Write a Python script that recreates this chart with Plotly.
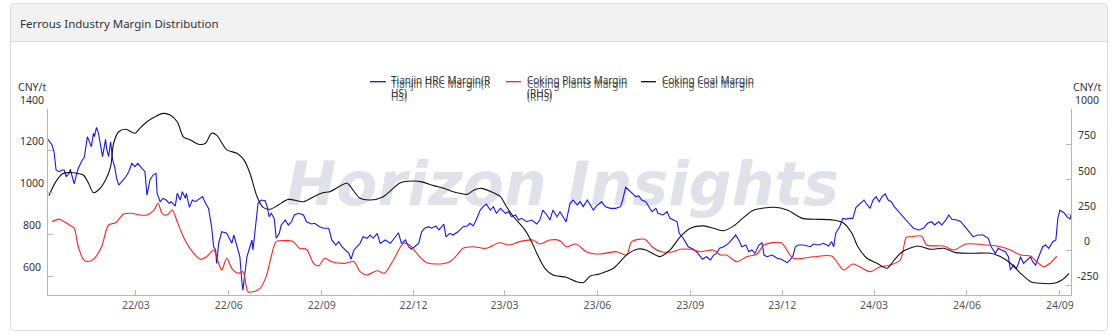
import plotly.graph_objects as go

# ---------------- data ----------------
x_range = ["2021-12-04", "2024-09-12"]
x_tick0 = "2022-03-01"
left_ticks = [600, 800, 1000, 1200, 1400]
right_ticks = [-250, 0, 250, 500, 750, 1000]
left_range = [509, 1400]
right_range = [-318, 1000]
unit_label = "CNY/t"
chart_title = "Ferrous Industry Margin Distribution"
watermark = "Horizon Insights"
legend_labels = ["Tianjin HRC Margin(R<br>HS)", "Coking Plants Margin<br>(RHS)", "Coking Coal Margin"]

# Tianjin HRC Margin (RHS)
hrc_dates = [
    "2021-12-04", "2021-12-08", "2021-12-10", "2021-12-12", "2021-12-15", "2021-12-18", "2021-12-20", "2021-12-22", "2021-12-25", "2021-12-26", "2021-12-28", "2021-12-30",
    "2022-01-01", "2022-01-03", "2022-01-07", "2022-01-09", "2022-01-12", "2022-01-14", "2022-01-16", "2022-01-18", "2022-01-19", "2022-01-21", "2022-01-23", "2022-01-25", "2022-01-27", "2022-01-30", "2022-01-31",
    "2022-02-02", "2022-02-04", "2022-02-06", "2022-02-08", "2022-02-10", "2022-02-12", "2022-02-15", "2022-02-19", "2022-02-22", "2022-02-25", "2022-02-28",
    "2022-03-03", "2022-03-07", "2022-03-10", "2022-03-12", "2022-03-15", "2022-03-18", "2022-03-21", "2022-03-22", "2022-03-25", "2022-03-28", "2022-03-31",
    "2022-04-03", "2022-04-05", "2022-04-09", "2022-04-11", "2022-04-14", "2022-04-16", "2022-04-19", "2022-04-20", "2022-04-23", "2022-04-26", "2022-04-29",
    "2022-05-02", "2022-05-06", "2022-05-09", "2022-05-12", "2022-05-15", "2022-05-17", "2022-05-19", "2022-05-20", "2022-05-22", "2022-05-24", "2022-05-25", "2022-05-30",
    "2022-06-04", "2022-06-06", "2022-06-09", "2022-06-12", "2022-06-14", "2022-06-15", "2022-06-17", "2022-06-19", "2022-06-21", "2022-06-24", "2022-06-25", "2022-06-28", "2022-06-30",
    "2022-07-03", "2022-07-07", "2022-07-09", "2022-07-11", "2022-07-13", "2022-07-16", "2022-07-18", "2022-07-21", "2022-07-23", "2022-07-27", "2022-07-30",
    "2022-08-02", "2022-08-05", "2022-08-09", "2022-08-14", "2022-08-17", "2022-08-22", "2022-08-25", "2022-08-30",
    "2022-09-03", "2022-09-08", "2022-09-11", "2022-09-15", "2022-09-18", "2022-09-21", "2022-09-25", "2022-09-28", "2022-09-30",
    "2022-10-03", "2022-10-06", "2022-10-09", "2022-10-12", "2022-10-16", "2022-10-19", "2022-10-22", "2022-10-26", "2022-10-29",
    "2022-11-03", "2022-11-08", "2022-11-13", "2022-11-16", "2022-11-19", "2022-11-23", "2022-11-26", "2022-11-29",
    "2022-12-02", "2022-12-06", "2022-12-09", "2022-12-12", "2022-12-16", "2022-12-19", "2022-12-23", "2022-12-26", "2022-12-29", "2022-12-31",
    "2023-01-02", "2023-01-06", "2023-01-09", "2023-01-14", "2023-01-19", "2023-01-23", "2023-01-26", "2023-01-29",
    "2023-02-01", "2023-02-05", "2023-02-08", "2023-02-11", "2023-02-15", "2023-02-18", "2023-02-21", "2023-02-25",
    "2023-03-02", "2023-03-05", "2023-03-08", "2023-03-12", "2023-03-15", "2023-03-18", "2023-03-23", "2023-03-28",
    "2023-04-02", "2023-04-05", "2023-04-08", "2023-04-12", "2023-04-15", "2023-04-18", "2023-04-22", "2023-04-25", "2023-04-28",
    "2023-05-01", "2023-05-05", "2023-05-08", "2023-05-12", "2023-05-15", "2023-05-18", "2023-05-22", "2023-05-25", "2023-05-28", "2023-05-31",
    "2023-06-05", "2023-06-09", "2023-06-14", "2023-06-19", "2023-06-24", "2023-06-26", "2023-06-29",
    "2023-07-02", "2023-07-05", "2023-07-09", "2023-07-12", "2023-07-15", "2023-07-19", "2023-07-22", "2023-07-25", "2023-07-29", "2023-07-31",
    "2023-08-05", "2023-08-09", "2023-08-12", "2023-08-15", "2023-08-19", "2023-08-21", "2023-08-24", "2023-08-27", "2023-08-30",
    "2023-09-04", "2023-09-07", "2023-09-10", "2023-09-13", "2023-09-17", "2023-09-21", "2023-09-24", "2023-09-27", "2023-09-30",
    "2023-10-04", "2023-10-09", "2023-10-12", "2023-10-16", "2023-10-19", "2023-10-22", "2023-10-26", "2023-10-29",
    "2023-11-01", "2023-11-04", "2023-11-08", "2023-11-11", "2023-11-13", "2023-11-16", "2023-11-21", "2023-11-26", "2023-11-30",
    "2023-12-06", "2023-12-09", "2023-12-12", "2023-12-14", "2023-12-17", "2023-12-22", "2023-12-29",
    "2024-01-01", "2024-01-06", "2024-01-11", "2024-01-16", "2024-01-19", "2024-01-21", "2024-01-23", "2024-01-27", "2024-01-30",
    "2024-02-02", "2024-02-06", "2024-02-09", "2024-02-12", "2024-02-16", "2024-02-20", "2024-02-22", "2024-02-26", "2024-02-29",
    "2024-03-03", "2024-03-06", "2024-03-09", "2024-03-12", "2024-03-15", "2024-03-18", "2024-03-21", "2024-03-24", "2024-03-28", "2024-03-31",
    "2024-04-03", "2024-04-06", "2024-04-09", "2024-04-14", "2024-04-19", "2024-04-23", "2024-04-27", "2024-04-30",
    "2024-05-04", "2024-05-07", "2024-05-11", "2024-05-14", "2024-05-17", "2024-05-22", "2024-05-26", "2024-05-31",
    "2024-06-03", "2024-06-07", "2024-06-12", "2024-06-17", "2024-06-22", "2024-06-25", "2024-06-29",
    "2024-07-02", "2024-07-05", "2024-07-09", "2024-07-12", "2024-07-14", "2024-07-17", "2024-07-20", "2024-07-22", "2024-07-24", "2024-07-27", "2024-07-31",
    "2024-08-03", "2024-08-05", "2024-08-08", "2024-08-11", "2024-08-15", "2024-08-18", "2024-08-21", "2024-08-25", "2024-08-28", "2024-08-30",
    "2024-09-01", "2024-09-05", "2024-09-08", "2024-09-11", "2024-09-12",
]
hrc_margin = [
    785, 745, 697, 568, 556, 568, 568, 520, 544, 573, 520, 469,
    532, 580, 639, 658, 804, 768, 733, 828, 804, 870, 828, 745, 662, 785, 721,
    662, 768, 639, 591, 509, 461, 485, 520, 556, 615, 591,
    615, 580, 556, 390, 497, 532, 544, 403, 343, 367, 355,
    332, 343, 312, 403, 355, 414, 367, 403, 303, 355, 343,
    360, 379, 332, 296, 166, 24, 1, -94, 48, 119, 130, 119,
    48, 107, 24, -47, -224, -283, -164, -47, 1, 72, 1, 178, 332,
    355, 350, 308, 237, 261, 225, 84, 119, 178, 213, 178,
    201, 249, 261, 249, 201, 185, 190, 166,
    155, 155, 72, 36, 60, 24, 1, -23, -65,
    1, 24, 48, 95, 84, 107, 84, 119, 48,
    72, 48, 95, 123, 48, 72, 24, 6,
    24, 48, 130, 155, 166, 155, 171, 143, 166, 185,
    95, 119, 107, 130, 166, 171, 190, 171,
    213, 284, 308, 327, 284, 308, 261, 296,
    261, 272, 237, 249, 213, 225, 201, 213,
    185, 213, 284, 249, 213, 284, 237, 272, 237,
    201, 332, 355, 320, 343, 308, 355, 320, 284, 312,
    343, 308, 296, 296, 308, 355, 445,
    426, 403, 379, 384, 355, 343, 308, 272, 296, 261,
    249, 272, 225, 213, 201, 119, 95, 60, 24,
    6, -11, -35, -65, -47, -70, -35, -23, 13,
    24, 48, 72, 107, 72, 24, 36, -11,
    1, -23, 36, 52, -35, -47, -35, -58, -65,
    -89, -70, -35, 24, 36, 36, 24,
    43, 36, 48, 29, 60, 24, 119, 166, 225,
    220, 225, 225, 302, 329, 355, 332, 296, 355,
    379, 343, 379, 398, 355, 343, 308, 284, 249, 225,
    201, 178, 155, 143, 155, 190, 201, 178,
    201, 178, 213, 249, 218, 213, 201, 155,
    130, 95, 107, 107, 84, 24, -23,
    13, 1, -11, -47, -141, -106, -129, -94, -47, -94, -70,
    -47, -82, -106, -47, 24, 36, 13, 60, 72, 225,
    284, 265, 237, 220, 249,
]

# Coking Plants Margin (RHS)
coking_dates = [
    "2021-12-08", "2021-12-15", "2021-12-20", "2021-12-27", "2021-12-30",
    "2022-01-03", "2022-01-08", "2022-01-13", "2022-01-19", "2022-01-26",
    "2022-02-02", "2022-02-09", "2022-02-17", "2022-02-25",
    "2022-03-05", "2022-03-12", "2022-03-19", "2022-03-23", "2022-03-27",
    "2022-04-01", "2022-04-06", "2022-04-11", "2022-04-17", "2022-04-26",
    "2022-05-04", "2022-05-10", "2022-05-17", "2022-05-22", "2022-05-25", "2022-05-30",
    "2022-06-04", "2022-06-10", "2022-06-15", "2022-06-20", "2022-06-25",
    "2022-07-02", "2022-07-08", "2022-07-13", "2022-07-18", "2022-07-28",
    "2022-08-04", "2022-08-10", "2022-08-17", "2022-08-24", "2022-08-29",
    "2022-09-04", "2022-09-11", "2022-09-23",
    "2022-10-03", "2022-10-09", "2022-10-16", "2022-10-26",
    "2022-11-02", "2022-11-11", "2022-11-21", "2022-11-27",
    "2022-12-07", "2022-12-14", "2022-12-27",
    "2023-01-06", "2023-01-13", "2023-01-19", "2023-01-29",
    "2023-02-11", "2023-02-24",
    "2023-03-06", "2023-03-16", "2023-03-29",
    "2023-04-05", "2023-04-15", "2023-04-25",
    "2023-05-01", "2023-05-11", "2023-05-21",
    "2023-06-03", "2023-06-20", "2023-06-30",
    "2023-07-05", "2023-07-18", "2023-07-25",
    "2023-08-03", "2023-08-15", "2023-08-22",
    "2023-09-01", "2023-09-11", "2023-09-24",
    "2023-10-01", "2023-10-07", "2023-10-17", "2023-10-27",
    "2023-11-06", "2023-11-13", "2023-11-30",
    "2023-12-12",
    "2024-01-01", "2024-01-19", "2024-01-31",
    "2024-02-09", "2024-02-26",
    "2024-03-07", "2024-03-17", "2024-03-27",
    "2024-04-02", "2024-04-07", "2024-04-17", "2024-04-22",
    "2024-05-09", "2024-05-19", "2024-05-31",
    "2024-06-21",
    "2024-07-04", "2024-07-14", "2024-07-24",
    "2024-08-03", "2024-08-09", "2024-08-16", "2024-08-22", "2024-08-29",
]
coking_margin = [
    201, 220, 201, 171, 155,
    24, -65, -82, -58, 24,
    178, 194, 256, 261,
    249, 249, 284, 332, 261,
    249, 284, 201, 95, -11,
    -65, -47, 1, -94, -141, -58,
    -129, -164, -153, -295, -295,
    -271, -188, -47, 60, 67,
    60, 13, 6, -94, -111,
    -58, -82, -94,
    -82, -153, -176, -146,
    -164, -70, 48, 36,
    -47, -89, -98,
    -82, -35, 13, 24,
    13, 52,
    36, 60, 72,
    43, 72, 67,
    24, 43, -11,
    -28, -11, -35,
    60, 77, 24,
    -11, -11, 6,
    6, -11, 1,
    -35, -35, -82, -47,
    -28, 36, 52,
    -58,
    -47, -42, -141,
    -98, -153,
    -118, -106, -70,
    91, 95, 100, 36,
    29, 1, 43,
    36,
    24, 1, -35,
    -42, -82, -118, -94, -42,
]

# Coking Coal Margin (LHS)
coal_dates = [
    "2021-12-05", "2021-12-11", "2021-12-18", "2021-12-23",
    "2022-01-02", "2022-01-08", "2022-01-13", "2022-01-18", "2022-01-23", "2022-01-30",
    "2022-02-04", "2022-02-07", "2022-02-12", "2022-02-19", "2022-02-28",
    "2022-03-05", "2022-03-12", "2022-03-20", "2022-03-28",
    "2022-04-04", "2022-04-11", "2022-04-17", "2022-04-24",
    "2022-05-02", "2022-05-09", "2022-05-15", "2022-05-20", "2022-05-30",
    "2022-06-09", "2022-06-16", "2022-06-22", "2022-06-29",
    "2022-07-05", "2022-07-12", "2022-07-20", "2022-07-30",
    "2022-08-14", "2022-08-24",
    "2022-09-02", "2022-09-09", "2022-09-26",
    "2022-10-02", "2022-10-09", "2022-10-19",
    "2022-11-01", "2022-11-18",
    "2022-12-01", "2022-12-08", "2022-12-21", "2022-12-31",
    "2023-01-13", "2023-01-23", "2023-01-30",
    "2023-02-06", "2023-02-16", "2023-02-25",
    "2023-03-03", "2023-03-10", "2023-03-20", "2023-03-27",
    "2023-04-02", "2023-04-10", "2023-04-18",
    "2023-05-01", "2023-05-11", "2023-05-18", "2023-05-25",
    "2023-06-03", "2023-06-17", "2023-06-30",
    "2023-07-11", "2023-07-19",
    "2023-08-02", "2023-08-12", "2023-08-22",
    "2023-09-01", "2023-09-14", "2023-09-24",
    "2023-10-04", "2023-10-14", "2023-10-24",
    "2023-11-03", "2023-11-23",
    "2023-12-06", "2023-12-21",
    "2024-01-01", "2024-01-21", "2024-01-31",
    "2024-02-08", "2024-02-14", "2024-02-23",
    "2024-03-04", "2024-03-14", "2024-03-21", "2024-03-29",
    "2024-04-13", "2024-04-26",
    "2024-05-09", "2024-05-21",
    "2024-06-08", "2024-06-24",
    "2024-07-04", "2024-07-14", "2024-07-24",
    "2024-08-03", "2024-08-13", "2024-08-26",
    "2024-09-03", "2024-09-10",
]
coal_margin = [
    985, 1046, 1089, 1095,
    1092, 1084, 1046, 999, 1012, 1060,
    1124, 1236, 1291, 1303, 1284,
    1308, 1339, 1363, 1379,
    1371, 1339, 1267, 1252,
    1231, 1236, 1284, 1275, 1204,
    1188, 1156, 1092, 980,
    929, 920, 940, 967,
    956, 980,
    999, 1004, 1044,
    1012, 972, 964,
    980, 1047,
    1055, 1052, 1033, 1020,
    999, 991, 1012,
    1020, 1004, 980,
    932, 884, 829, 773,
    709, 637, 605,
    594, 573, 568, 600,
    610, 637, 701,
    729, 725,
    693, 725, 788,
    829, 840, 829,
    817, 840, 881,
    916, 929,
    916, 876,
    872, 868, 853,
    805, 740, 685,
    661, 637, 677, 716,
    744, 728,
    733, 712,
    709, 709,
    693, 661, 613,
    573, 565, 565,
    581, 613,
]

assert len(hrc_dates) == len(hrc_margin), (len(hrc_dates), len(hrc_margin))
assert len(coking_dates) == len(coking_margin), (len(coking_dates), len(coking_margin))
assert len(coal_dates) == len(coal_margin), (len(coal_dates), len(coal_margin))

# ---------------- styling / layout helpers ----------------
W, H = 1118, 335
ML, MR, MT, MB = 48, 47, 109, 40
PW, PH = W - ML - MR, H - MT - MB
FONT = "Noto Sans"
AXIS_GRAY = "#b8b8b8"
TEXT = "#333333"
COLORS = ["#1414ff", "#ff1f1f", "#111111"]


def fx(p):
    return (p - ML) / PW


def fy(p):
    return (H - MB - p) / PH


def rounded_path(x0, y0, x1, y1, r, bottom_round=True):
    rb = r if bottom_round else 0
    parts = [
        f"M{fx(x0 + r)},{fy(y0)}",
        f"L{fx(x1 - r)},{fy(y0)}",
        f"Q{fx(x1)},{fy(y0)} {fx(x1)},{fy(y0 + r)}",
        f"L{fx(x1)},{fy(y1 - rb)}",
    ]
    if rb:
        parts.append(f"Q{fx(x1)},{fy(y1)} {fx(x1 - rb)},{fy(y1)}")
    parts.append(f"L{fx(x0 + rb)},{fy(y1)}")
    if rb:
        parts.append(f"Q{fx(x0)},{fy(y1)} {fx(x0)},{fy(y1 - rb)}")
    parts += [
        f"L{fx(x0)},{fy(y0 + r)}",
        f"Q{fx(x0)},{fy(y0)} {fx(x0 + r)},{fy(y0)}",
        "Z",
    ]
    return " ".join(parts)


fig = go.Figure()
fig.add_trace(go.Scatter(
    x=hrc_dates, y=hrc_margin, mode="lines", yaxis="y",
    line=dict(color=COLORS[0], width=1.1), showlegend=False,
))
fig.add_trace(go.Scatter(
    x=coking_dates, y=coking_margin, mode="lines", yaxis="y",
    line=dict(color=COLORS[1], width=1.1, shape="spline", smoothing=0.8), showlegend=False,
))
fig.add_trace(go.Scatter(
    x=coal_dates, y=coal_margin, mode="lines", yaxis="y2",
    line=dict(color=COLORS[2], width=1.1, shape="spline", smoothing=0.8), showlegend=False,
))

shapes = []
annotations = []

# card header + outline
shapes.append(dict(type="path", xref="paper", yref="paper", layer="below",
                   path=rounded_path(10.5, 3.5, 1107.5, 41.5, 4, bottom_round=False),
                   fillcolor="#f2f2f2", line=dict(width=0)))
shapes.append(dict(type="line", xref="paper", yref="paper", layer="below",
                   x0=fx(10.5), x1=fx(1107.5), y0=fy(41.5), y1=fy(41.5),
                   line=dict(color="#dedede", width=1)))
shapes.append(dict(type="path", xref="paper", yref="paper", layer="below",
                   path=rounded_path(10.5, 3.5, 1107.5, 330.5, 4),
                   fillcolor="rgba(0,0,0,0)", line=dict(color="#dcdcdc", width=1)))

# watermark (behind the lines)
shapes.append(dict(type="rect", xref="paper", yref="paper", layer="below",
                   x0=fx(270), x1=fx(855), y0=fy(215), y1=fy(145),
                   line=dict(width=0, color="rgba(0,0,0,0)"), fillcolor="rgba(0,0,0,0)",
                   label=dict(text=watermark, textposition="middle center",
                              font=dict(family="DejaVu Sans", size=60, color="#e1e1e9",
                                        weight="bold", style="italic"))))

annotations.append(dict(text=chart_title, xref="paper", yref="paper", x=fx(18), y=fy(23),
                        xanchor="left", yanchor="middle", showarrow=False,
                        font=dict(family=FONT, size=11.5, color=TEXT)))

# unit labels
for xc in (32, 1086.5):
    annotations.append(dict(text=unit_label, xref="paper", yref="paper", x=fx(xc), y=fy(87.3),
                            xanchor="center", yanchor="middle", showarrow=False,
                            font=dict(family=FONT, size=10.5, color=TEXT)))

# y tick labels (sit slightly above their tick marks, centred)
for v in left_ticks:
    annotations.append(dict(text=str(v), xref="paper", yref="y2", x=fx(31.5), y=v, yshift=9.5,
                            xanchor="center", yanchor="middle", showarrow=False,
                            font=dict(family=FONT, size=10.5, color=TEXT)))
for v in right_ticks:
    annotations.append(dict(text=str(v), xref="paper", yref="y", x=fx(1087), y=v, yshift=9,
                            xanchor="center", yanchor="middle", showarrow=False,
                            font=dict(family=FONT, size=10.5, color=TEXT)))

# manual legend (text rendered with a slight offset echo, as in the source)
legend_seg = [(370, 386), (506, 521), (641, 656)]
legend_txt_x = [389, 525, 659.5]
for (a, b), tx, lab, col in zip(legend_seg, legend_txt_x, legend_labels, COLORS):
    shapes.append(dict(type="line", xref="paper", yref="paper", x0=fx(a), x1=fx(b),
                       y0=fy(81.7), y1=fy(81.7), line=dict(color=col, width=1.3)))
    annotations.append(dict(text=lab, xref="paper", yref="paper", x=fx(tx), y=fy(70.5),
                            xanchor="left", yanchor="top", align="left", showarrow=False,
                            font=dict(family=FONT, size=10, color="#333333",
                                      shadow="0px 3.5px 0px rgba(60,60,60,0.85)")))

fig.update_layout(
    width=W, height=H,
    margin=dict(l=ML, r=MR, t=MT, b=MB, autoexpand=False),
    paper_bgcolor="white", plot_bgcolor="rgba(0,0,0,0)",
    showlegend=False,
    shapes=shapes, annotations=annotations,
    xaxis=dict(type="date", range=x_range, tick0=x_tick0, dtick="M3", tickformat="%y/%m",
               ticks="inside", ticklen=5, tickcolor=AXIS_GRAY, showline=True, linecolor=AXIS_GRAY,
               showgrid=False, zeroline=False,
               tickfont=dict(family=FONT, size=10.5, color="#555555")),
    yaxis=dict(side="right", range=right_range, tickvals=right_ticks, showticklabels=False,
               ticks="inside", ticklen=5, tickcolor=AXIS_GRAY, showline=True, linecolor=AXIS_GRAY,
               showgrid=False, zeroline=False),
    yaxis2=dict(side="left", overlaying="y", range=left_range, tickvals=left_ticks, showticklabels=False,
                ticks="inside", ticklen=5, tickcolor=AXIS_GRAY, showline=True, linecolor=AXIS_GRAY,
                showgrid=False, zeroline=False),
)

fig.write_html("out.html")
